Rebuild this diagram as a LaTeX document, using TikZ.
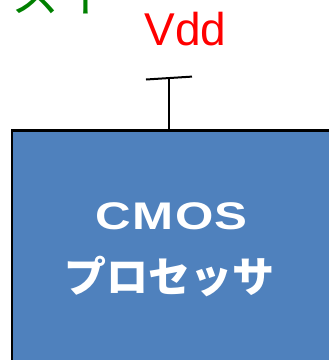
\documentclass[tikz,border=0pt]{standalone}
\usepackage{fontspec}
\setmainfont{Liberation Sans}
\newfontfamily\cjk{Noto Sans CJK JP}
\definecolor{boxblue}{HTML}{4F81BD}
\definecolor{lblgreen}{HTML}{008000}
\tikzset{
  wire/.style={draw=black, line width=2pt},
  cpubox/.style={draw=black, line width=2.5pt, fill=boxblue, inner sep=0pt},
  boxtext/.style={text=white, inner sep=0pt, anchor=base},
}
\begin{document}
\begin{tikzpicture}[x=1pt,y=-1pt]
\useasboundingbox (0,0) rectangle (329,360);
\clip (0,0) rectangle (329,360);
\node[cpubox, anchor=north west, minimum width=340pt, minimum height=250pt] (box) at (11,129) {};
\node[boxtext] (cmos) at (171.7,229.3) {\scalebox{1.28}[1]{\fontsize{38.5pt}{42pt}\selectfont\bfseries C\kern1pt M\kern1pt O\kern1pt S}};
\node[boxtext] (proc) at (170,292) {\fontsize{42pt}{46pt}\selectfont\cjk\bfseries プロセッサ};
\node[text=red, inner sep=0pt, anchor=base] (vdd) at (185.5,45) {\fontsize{46pt}{50pt}\selectfont Vdd};
\node[text=lblgreen, inner sep=0pt, anchor=base west] (sw) at (11,12.5) {\fontsize{48pt}{52pt}\selectfont\cjk スイ};
\coordinate (barL) at (146,79.5);
\coordinate (barR) at (192,76.6);
\coordinate (vtop) at (169.5,78);
\draw[wire] (barL) -- (barR);
\draw[wire] (vtop) -- (vtop |- box.north);
\end{tikzpicture}
\end{document}
